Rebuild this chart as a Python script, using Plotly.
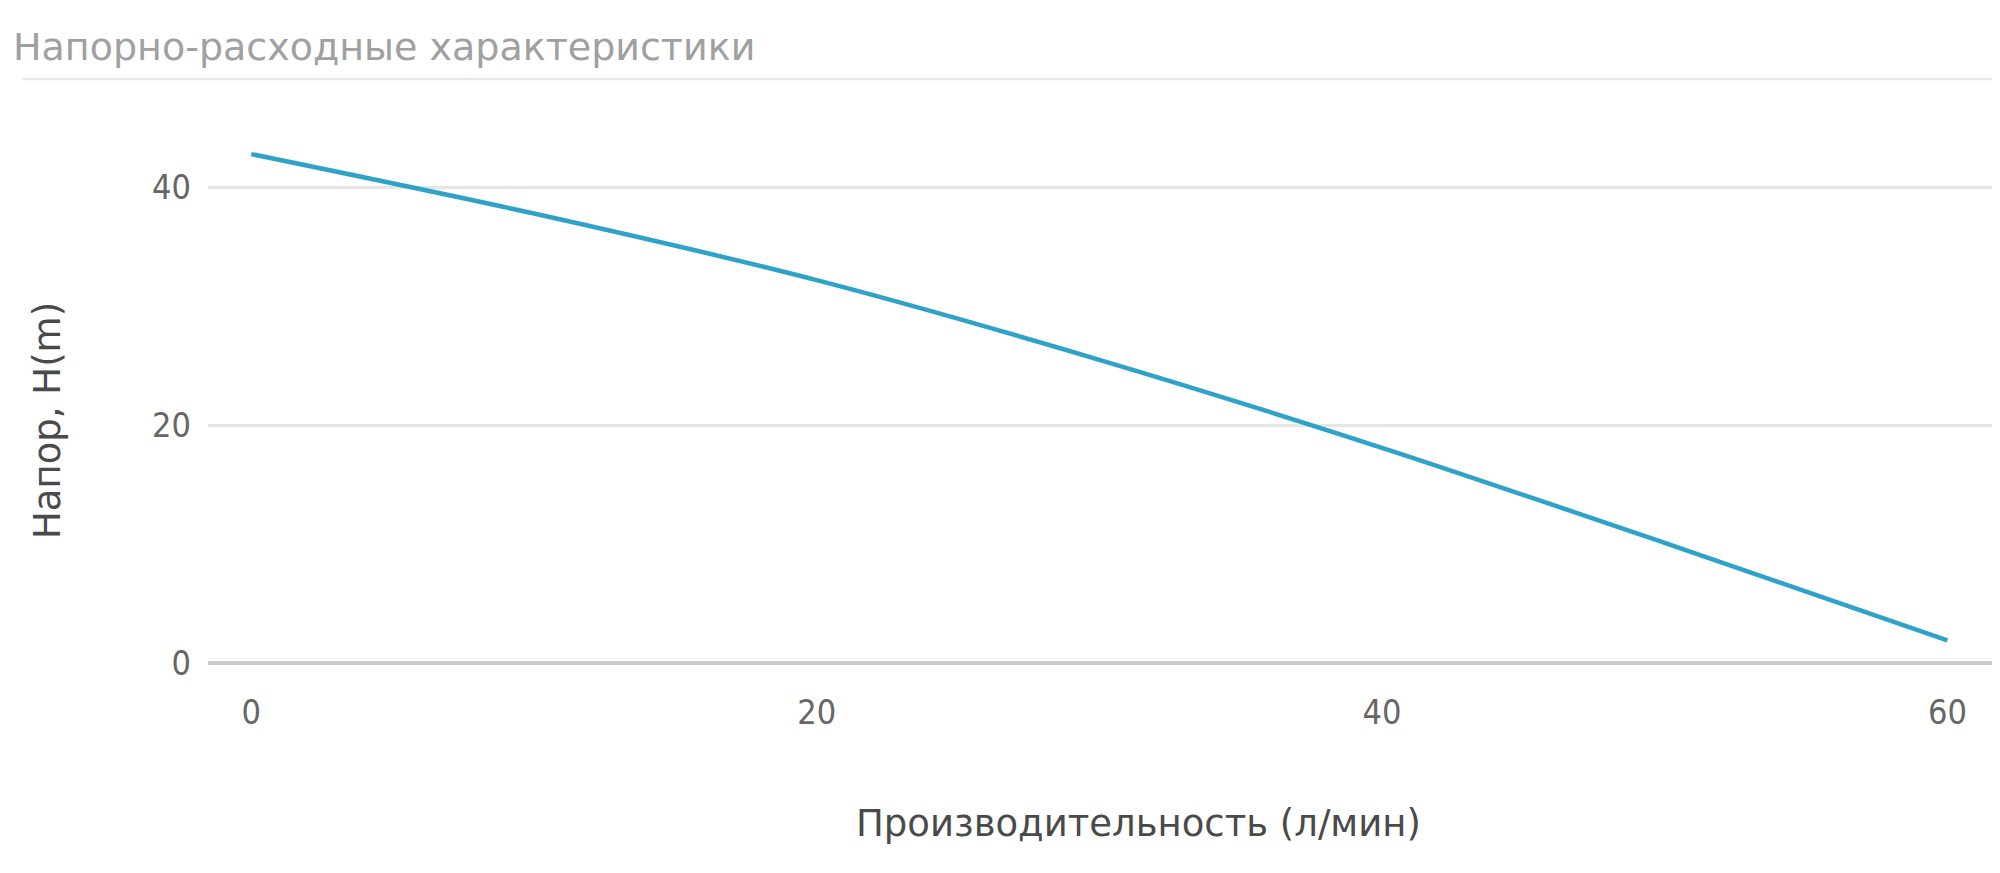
import plotly.graph_objects as go

# Data
flow_lpm = [0, 10, 20, 30, 40, 50, 60]
head_m = [42.8, 37.8, 32.2, 25.5, 18.1, 10.1, 1.9]

x_ticks = [0, 20, 40, 60]
y_ticks = [0, 20, 40]

chart_title = "Напорно-расходные характеристики"
x_title = "Производительность (л/мин)"
y_title = "Напор, H(m)"

# the page body adds an 8px margin; work in screen pixels minus that offset
OFF = 8
W, H = 2000 - OFF, 873 - OFF
ML = 208 - OFF
MR = W - (1996 - OFF)
MT = 100 - OFF
MB = H - (663 - OFF)
plot_w = W - ML - MR
plot_h = H - MT - MB


def px_x(sx):
    return (sx - OFF - ML) / plot_w


def px_y(sy):
    return (MT + plot_h - (sy - OFF)) / plot_h


fig = go.Figure()
fig.add_trace(go.Scatter(
    x=flow_lpm, y=head_m, mode="lines",
    line=dict(color="#2FA2C8", width=4.5, shape="spline", smoothing=0.8),
    showlegend=False, hoverinfo="x+y",
))

tick_font = dict(family="Liberation Sans Narrow, DejaVu Sans Condensed, Liberation Sans",
                 size=34, color="#666666")

fig.update_layout(
    width=W, height=H,
    margin=dict(l=ML, r=MR, t=MT, b=MB),
    paper_bgcolor="white", plot_bgcolor="white",
    title=dict(text=chart_title, x=(13 - OFF) / W, xanchor="left", xref="container",
               y=1 - (47 - OFF) / H, yanchor="middle", yref="container",
               font=dict(family="DejaVu Sans", size=38, color="#a0a0a0")),
    xaxis=dict(range=[-1.53, 61.72], tickvals=x_ticks, showgrid=False,
               zeroline=False, showline=False, ticks="", tickfont=tick_font,
               ticklabelstandoff=26, fixedrange=True),
    yaxis=dict(range=[0, 47.35], tickvals=y_ticks, showgrid=True,
               gridcolor="#e6e6e6", gridwidth=2.5, zeroline=True,
               zerolinecolor="#cccccc", zerolinewidth=4, showline=False,
               ticks="", tickfont=tick_font, ticklabelstandoff=16,
               fixedrange=True),
    annotations=[
        dict(text=x_title, xref="paper", yref="paper",
             x=px_x(1138), y=px_y(823),
             xanchor="center", yanchor="middle", showarrow=False,
             font=dict(family="DejaVu Sans", size=37, color="#4a4a4a")),
        dict(text=y_title, xref="paper", yref="paper",
             x=px_x(48), y=px_y(421),
             xanchor="center", yanchor="middle", showarrow=False, textangle=-90,
             font=dict(family="DejaVu Sans", size=37, color="#4a4a4a")),
    ],
    shapes=[
        dict(type="line", xref="paper", yref="paper",
             x0=px_x(23), x1=px_x(2000),
             y0=px_y(79), y1=px_y(79),
             line=dict(color="#e8e8e8", width=2.5)),
    ],
)

fig.write_html("out.html")
